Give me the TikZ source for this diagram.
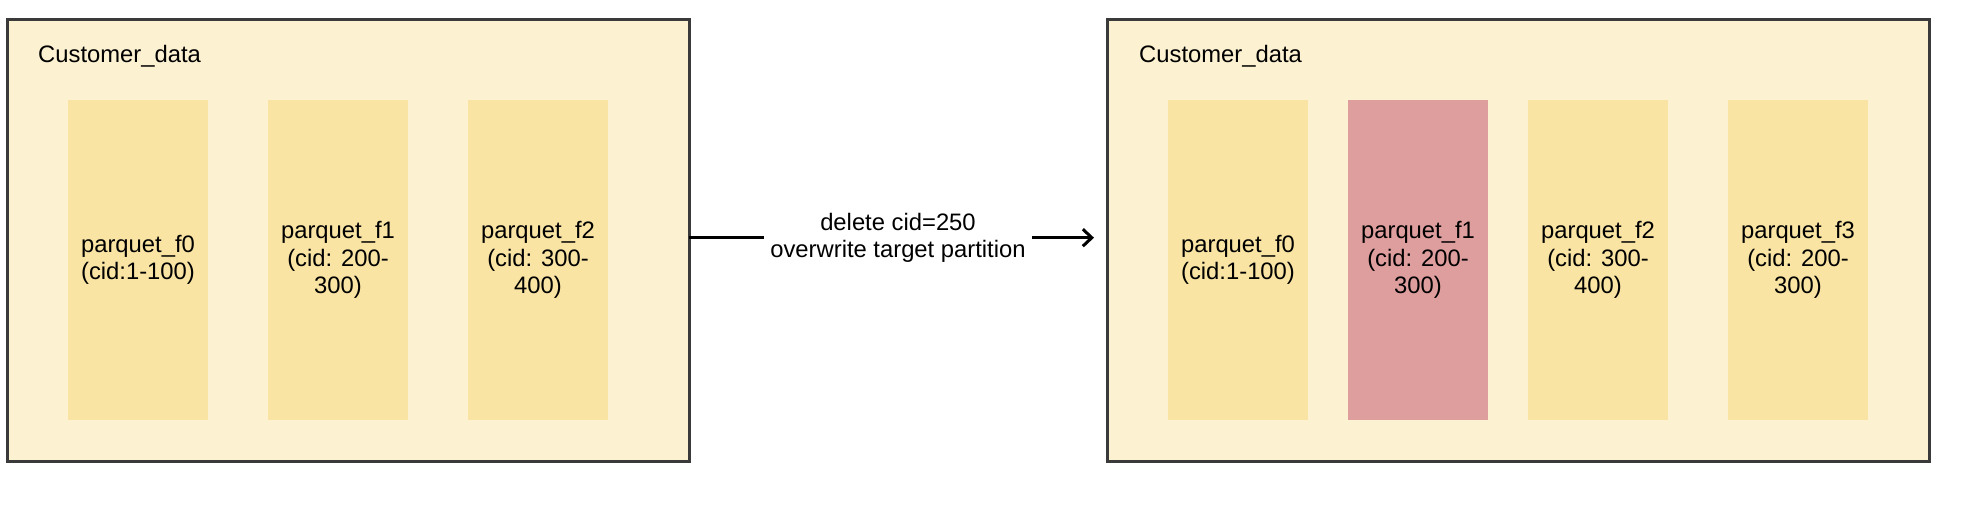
\documentclass[tikz,border=0pt]{standalone}
\usepackage{fontspec}
\setmainfont{Liberation Sans}
\usetikzlibrary{arrows.meta}
\definecolor{outerfill}{HTML}{FCF1D0}
\definecolor{outerdraw}{HTML}{3A3A3A}
\definecolor{innerfill}{HTML}{F9E4A4}
\definecolor{redfill}{HTML}{DF9E9E}
\begin{document}
\begin{tikzpicture}[x=1pt,y=-1pt,
  every node/.style={font=\fontsize{23.8}{27.5}\selectfont, inner sep=0pt},
  container/.style={draw=outerdraw, fill=outerfill, line width=3pt},
  part/.style={fill=innerfill, minimum width=140pt, minimum height=320pt, align=center},
  redpart/.style={part, fill=redfill},
  title/.style={anchor=base west},
  flow/.style={line width=3pt, -{Straight Barb[length=9pt,width=17pt,line width=3pt]}}
]
\useasboundingbox (0,0) rectangle (1986,506);
% left container
\draw[container] (7,19) rectangle (689,461);
\coordinate (lE) at (689,237.7);
\node[title] (lt) at (38,62) {Customer\_data};
\node[part] (l0) at (138,260) {parquet\_f0\\(cid:1-100)};
\node[part] (l1) at (338,260) {parquet\_f1\\(cid: 200-\\300)};
\node[part] (l2) at (538,260) {parquet\_f2\\(cid: 300-\\400)};
% right container
\draw[container] (1107,19) rectangle (1929,461);
\coordinate (rW) at (1107,237.7);
\node[title] (rt) at (1139,62) {Customer\_data};
\node[part] (r0) at (1238,260) {parquet\_f0\\(cid:1-100)};
\node[redpart] (r1) at (1418,260) {parquet\_f1\\(cid: 200-\\300)};
\node[part] (r2) at (1598,260) {parquet\_f2\\(cid: 300-\\400)};
\node[part] (r3) at (1798,260) {parquet\_f3\\(cid: 200-\\300)};
% arrow
\draw[flow, shorten >=13pt] (lE) -- node[fill=white, inner xsep=6pt, inner ysep=3pt, align=center] (lbl) {delete cid=250\\overwrite target partition} (rW);
\end{tikzpicture}
\end{document}
